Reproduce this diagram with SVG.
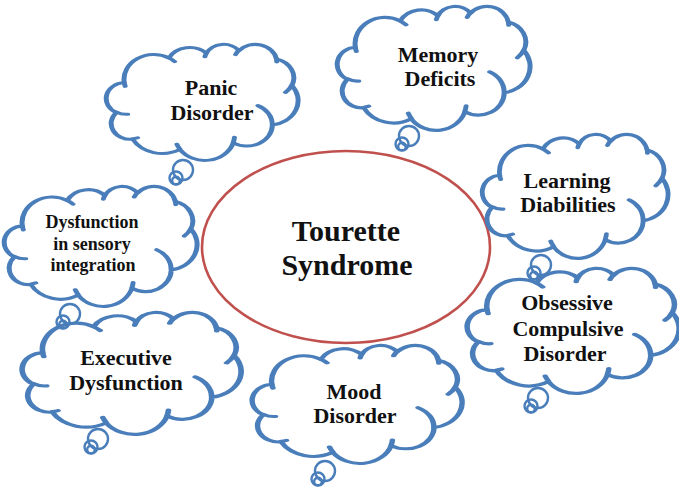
<svg xmlns="http://www.w3.org/2000/svg" xmlns:xlink="http://www.w3.org/1999/xlink" width="679" height="493" viewBox="0 0 679 493">
<style>
.cl{fill:#fff;stroke:#4a7ebb;stroke-width:2.6;vector-effect:non-scaling-stroke;stroke-linejoin:round}
.hk{fill:none;stroke:#4a7ebb;stroke-width:2.6;vector-effect:non-scaling-stroke;stroke-linecap:round}
.tl{fill:none;stroke:#4a7ebb;stroke-width:2.4}
.t{font-family:"Liberation Serif","Times New Roman",serif;font-weight:bold;font-size:22px;fill:#111;text-anchor:middle}
.s{font-size:18px}
.b{font-size:30px}
</style>
<defs>
<path id="cloud" d="M9.03,33.26 A15.63,21.27 0 0 1 32.42,12.04 A12.34,16.82 0 0 1 51.99,7.94 A10.10,13.76 0 0 1 69.06,5.74 A11.24,15.27 0 0 1 88.70,12.90 A12.34,16.84 0 0 1 96.81,35.78 A15.68,21.34 0 0 1 86.59,69.91 A13.39,18.21 0 0 1 66.10,85.21 A15.63,21.33 0 0 1 38.15,90.89 A17.87,24.41 0 0 1 13.44,82.10 A10.09,13.70 0 0 1 4.90,59.13 A10.06,13.76 0 0 1 9.03,33.26 Z"/>
<path id="hooks" d="M10.86,60.59 A10.06,13.76 0 0 1 5.00,58.75 M16.04,80.78 A10.09,13.70 0 0 1 13.47,81.67 M38.14,90.49 A15.63,21.33 0 0 1 36.60,86.46 M66.73,80.44 A15.63,21.33 0 0 1 66.11,84.86 M79.00,53.13 A13.39,18.21 0 0 1 86.53,69.65 M96.75,35.54 A12.34,16.84 0 0 1 93.40,41.74 M88.71,12.56 A11.24,15.27 0 0 1 88.89,15.49 M67.31,9.15 A11.24,15.27 0 0 1 69.03,5.42 M51.25,10.93 A10.10,13.76 0 0 1 52.08,7.71 M32.41,12.02 A15.63,21.27 0 0 1 35.41,15.14 M9.55,36.55 A15.63,21.27 0 0 1 9.03,33.26"/>
<g id="tail">
<circle cx="0" cy="0" r="10"/>
<circle cx="-7" cy="8" r="6.5"/>
<circle cx="-7" cy="10.5" r="3.8"/>
</g>
</defs>
<g id="connectors"/>
<g id="tourette">
<ellipse cx="346" cy="247" rx="144" ry="96" fill="#fff" stroke="#c0504d" stroke-width="2.6"/>
<text class="t b" x="346" y="241">Tourette</text>
<text class="t b" x="347" y="275">Syndrome</text>
</g>
<g id="memory">
<use href="#tail" class="tl" x="409" y="136"/>
<g transform="translate(338,6) scale(1.92,1.24)"><use href="#cloud" class="cl"/><use href="#hooks" class="hk"/></g>
<text class="t" x="438" y="62">Memory</text>
<text class="t" x="440" y="86">Deficits</text>
</g>
<g id="ocd">
<use href="#tail" class="tl" x="538" y="398"/>
<g transform="translate(468,268) scale(2.11,1.25)"><use href="#cloud" class="cl"/><use href="#hooks" class="hk"/></g>
<text class="t" x="567" y="310">Obsessive</text>
<text class="t" x="568" y="336">Compulsive</text>
<text class="t" x="565" y="361">Disorder</text>
</g>
<g id="learning">
<use href="#tail" class="tl" x="541" y="265"/>
<g transform="translate(483,134) scale(1.85,1.24)"><use href="#cloud" class="cl"/><use href="#hooks" class="hk"/></g>
<text class="t" x="567" y="188">Learning</text>
<text class="t" x="568" y="212">Diabilities</text>
</g>
<g id="mood">
<use href="#tail" class="tl" x="325" y="471"/>
<g transform="translate(253,345) scale(2.09,1.18)"><use href="#cloud" class="cl"/><use href="#hooks" class="hk"/></g>
<text class="t" x="354" y="399">Mood</text>
<text class="t" x="355" y="423">Disorder</text>
</g>
<g id="executive">
<use href="#tail" class="tl" x="98" y="439"/>
<g transform="translate(23,312) scale(2.18,1.22)"><use href="#cloud" class="cl"/><use href="#hooks" class="hk"/></g>
<text class="t" x="126" y="365">Executive</text>
<text class="t" x="126" y="390">Dysfunction</text>
</g>
<g id="sensory">
<use href="#tail" class="tl" x="70" y="314"/>
<g transform="translate(5,186) scale(1.92,1.20)"><use href="#cloud" class="cl"/><use href="#hooks" class="hk"/></g>
<text class="t s" x="92" y="228">Dysfunction</text>
<text class="t s" x="92" y="250">in sensory</text>
<text class="t s" x="93" y="271">integration</text>
</g>
<g id="panic">
<use href="#tail" class="tl" x="183" y="170"/>
<g transform="translate(107,44) scale(1.91,1.16)"><use href="#cloud" class="cl"/><use href="#hooks" class="hk"/></g>
<text class="t" x="211" y="95">Panic</text>
<text class="t" x="212" y="120">Disorder</text>
</g>
</svg>
